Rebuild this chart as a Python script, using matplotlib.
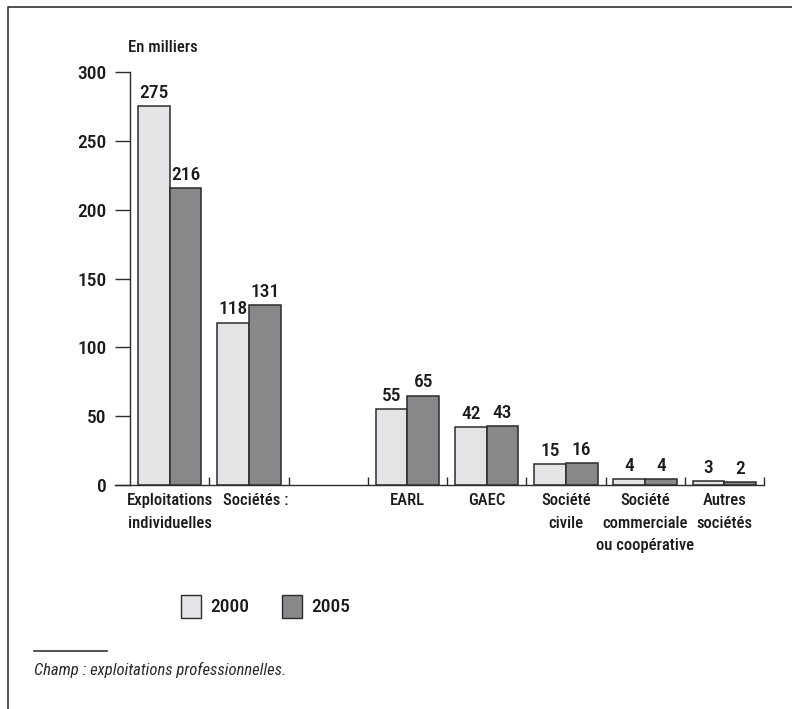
import matplotlib
matplotlib.use("Agg")
import matplotlib.pyplot as plt
from matplotlib import font_manager
from matplotlib.lines import Line2D
from matplotlib.patches import Rectangle
from matplotlib.transforms import ScaledTranslation

# pick a narrow face for the chart text if one is installed
names = {f.name for f in font_manager.fontManager.ttflist}
narrow = [n for n in ["Liberation Sans Narrow", "Roboto Condensed",
                      "DejaVu Sans Condensed", "Open Sans Condensed"] if n in names]
if narrow:
    plt.rcParams['font.family'] = [narrow[0], 'DejaVu Sans']
else:
    plt.rcParams['font.family'] = ['Roboto', 'DejaVu Sans']
    plt.rcParams['font.stretch'] = 'condensed'
plt.rcParams['font.weight'] = 'medium'
fs = 13.5

categories = ["Exploitations\nindividuelles", "Sociétés :", "EARL", "GAEC",
              "Société\ncivile", "Société\ncommerciale\nou coopérative",
              "Autres\nsociétés"]
slots = [0, 1, 3, 4, 5, 6, 7]          # slot 2 stays empty
values_2000 = [275, 118, 55, 42, 15, 4, 3]
values_2005 = [216, 131, 65, 43, 16, 4, 2]
years = ["2000", "2005"]
colors = ["#e4e4e6", "#88888b"]
edge = "#2b2b2b"
ink = "#1a1a1a"

W, H = 792, 709
fig = plt.figure(figsize=(W / 100, H / 100), dpi=100)
ax = fig.add_axes([130 / W, 1 - 485 / H, (764 - 130) / W, (485 - 72) / H])

bw = 0.4
for k, vals in enumerate([values_2000, values_2005]):
    xs = [s + 0.5 + (k - 0.5) * bw for s in slots]
    bars = ax.bar(xs, vals, width=bw, color=colors[k], edgecolor=edge,
                  linewidth=1.1, zorder=3)
    for b, v in zip(bars, vals):
        ax.text(b.get_x() + b.get_width() / 2, v + 3, str(v),
                ha="center", va="bottom", fontsize=fs + 0.5, color=ink)

ax.set_xlim(0, 8)
ax.set_ylim(0, 300)
ax.set_yticks([0, 50, 100, 150, 200, 250, 300])
ax.tick_params(axis="y", direction="out", length=11, width=1, color=edge,
               labelsize=fs + 0.5, pad=6, labelcolor=ink)
ax.set_xticks([s + 0.5 for s in slots])
ax.set_xticklabels(categories, fontsize=fs - 1.5, color=ink,
                   linespacing=1.6, va="top")
ax.tick_params(axis="x", length=0, pad=6)
ax.set_xticks(range(1, 9), minor=True)
ax.tick_params(axis="x", which="minor", direction="in", length=6, width=1,
               color=edge)

# "Sociétés :" sits a little right of its slot centre
lab = ax.get_xticklabels()[1]
lab.set_transform(lab.get_transform() + ScaledTranslation(7 / 100, 0, fig.dpi_scale_trans))

for side in ["top", "right"]:
    ax.spines[side].set_visible(False)
for side in ["left", "bottom"]:
    ax.spines[side].set_color(edge)
    ax.spines[side].set_linewidth(1)
ax.spines["bottom"].set_bounds(-0.19, 8)

fig.text(128 / W, 1 - 48 / H, "En milliers", fontsize=fs - 1.5, va="center",
         ha="left", color=ink)

# legend
for k, (x0, label) in enumerate(zip([181, 282], years)):
    fig.patches.append(Rectangle((x0 / W, 1 - 618 / H), 20 / W, 23 / H,
                                 transform=fig.transFigure,
                                 facecolor=colors[k], edgecolor=edge,
                                 linewidth=1))
    fig.text((x0 + 29) / W, 1 - 607 / H, label, fontsize=fs + 0.5,
             va="center", ha="left", color=ink)

# outer frame and footnote
fig.lines.append(Line2D([8 / W, 8 / W, 1], [0, 1 - 7 / H, 1 - 7 / H],
                        transform=fig.transFigure, color="#333333", lw=1.2))
fig.lines.append(Line2D([34 / W, 107 / W], [1 - 651 / H, 1 - 651 / H],
                        transform=fig.transFigure, color="#333333", lw=1.2))
fig.text(34 / W, 1 - 670 / H, "Champ : exploitations professionnelles.",
         style="italic", fontweight="normal",
         fontsize=12, va="center", ha="left", color="#2a2a2a")

fig.savefig("out.png", dpi=100)
